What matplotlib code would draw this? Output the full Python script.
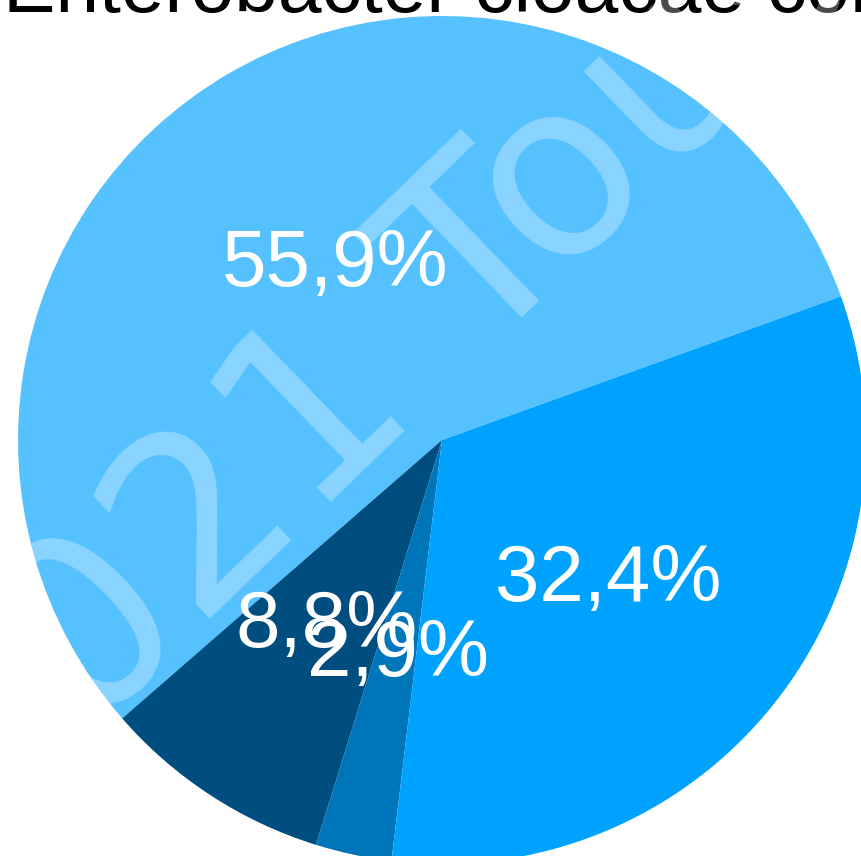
import matplotlib
matplotlib.use("Agg")
import matplotlib.pyplot as plt

plt.rcParams["font.family"] = ["Liberation Sans", "DejaVu Sans"]

# parts of the pie (percent), counter-clockwise from the start angle
categories = ["A", "B", "C", "D"]
values = [55.9, 8.8, 2.9, 32.4]
colors = ["#56C1FF", "#004D80", "#0076BA", "#00A2FF"]

title = "Enterobacter cloacae complex"
watermark = "2021 Tous droits réservés"

W, H = 861, 856
fig = plt.figure(figsize=(W / 100, H / 100), dpi=100)

# pie centre and radius in pixels
cx, cy, r = 442, 440, 424
ax = fig.add_axes([(cx - r) / W, (H - cy - r) / H, 2 * r / W, 2 * r / H])
wedges, texts, autotexts = ax.pie(
    values,
    colors=colors,
    startangle=19.8,
    counterclock=True,
    autopct=lambda p: f"{p:.1f}%".replace(".", ","),
    pctdistance=0.5,
    textprops=dict(color="white", fontsize=57.5),
    wedgeprops=dict(linewidth=0),
)
for t in autotexts:
    t.set_va("center_baseline")
ax.set_xlim(-1, 1)
ax.set_ylim(-1, 1)
ax.axis("off")

fig.text(3 / W, 1 - 11.5 / H, title, fontsize=56.5, color="black",
         ha="left", va="baseline")

# watermark over everything
fig.text(-27 / W, 10 / H, watermark, fontsize=176, color="white", alpha=0.3,
         family="DejaVu Sans", rotation=44, rotation_mode="anchor",
         ha="left", va="baseline")

fig.savefig("out.png", dpi=100)
